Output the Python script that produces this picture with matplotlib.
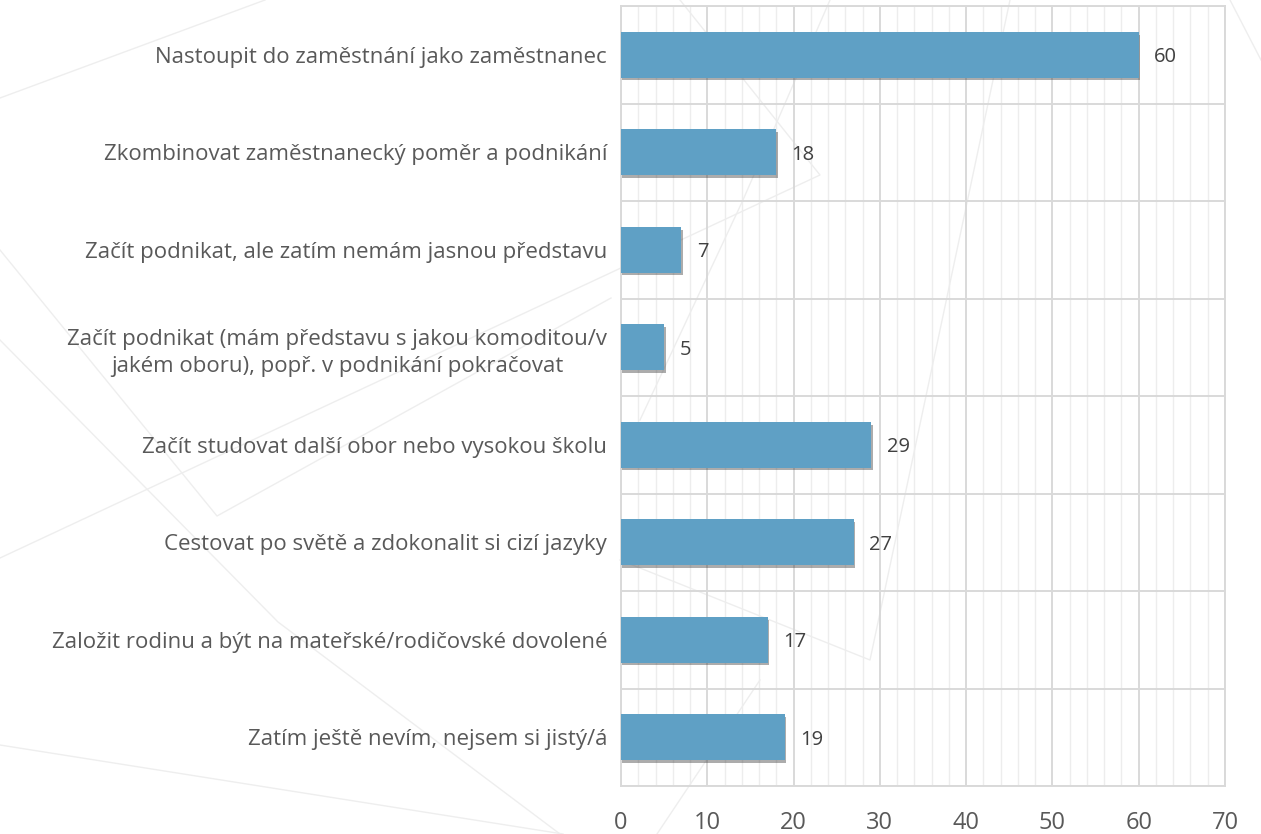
import numpy as np
import matplotlib
matplotlib.use("Agg")
import matplotlib.pyplot as plt
import matplotlib.patheffects as pe
from matplotlib.lines import Line2D

plt.rcParams["font.family"] = ["Open Sans", "DejaVu Sans"]

categories = [
    "Nastoupit do zaměstnání jako zaměstnanec",
    "Zkombinovat zaměstnanecký poměr a podnikání",
    "Začít podnikat, ale zatím nemám jasnou představu",
    "Začít podnikat (mám představu s jakou komoditou/v\njakém oboru), popř. v podnikání pokračovat",
    "Začít studovat další obor nebo vysokou školu",
    "Cestovat po světě a zdokonalit si cizí jazyky",
    "Založit rodinu a být na mateřské/rodičovské dovolené",
    "Zatím ještě nevím, nejsem si jistý/á",
]
values = [60, 18, 7, 5, 29, 27, 17, 19]
x_ticks = [0, 10, 20, 30, 40, 50, 60, 70]

text_color = "#595959"
bar_color = "#5FA0C5"

fig = plt.figure(figsize=(12.61, 8.34), dpi=100)
ax = fig.add_axes([621 / 1261, 1 - 786 / 834, (1225 - 621) / 1261, (786 - 6) / 834])

# faint decorative background lines (figure pixel coords, y down)
deco = [
    [(0, 98), (265, 0)],
    [(0, 250), (217, 516), (611, 298)],
    [(0, 340), (278, 622), (560, 834)],
    [(0, 558), (820, 175), (680, 0)],
    [(0, 745), (563, 834)],
    [(760, 680), (657, 834)],
    [(830, 0), (743, 200), (640, 420)],
    [(1010, 0), (870, 660), (620, 560)],
    [(1230, 0), (1261, 60)],
]
for pts in deco:
    xs = [p[0] / 1261 for p in pts]
    ys = [1 - p[1] / 834 for p in pts]
    fig.add_artist(Line2D(xs, ys, color="#EEEEEE", lw=1.0, zorder=0))

ax.set_facecolor("none")
y = np.arange(len(categories))
bars = ax.barh(y, values, height=0.47, color=bar_color, zorder=3)
for b in bars:
    b.set_path_effects([pe.SimplePatchShadow(offset=(1, -2), shadow_rgbFace="#303030", alpha=0.4), pe.Normal()])

for yi, v in zip(y, values):
    ax.annotate(str(v), (v, yi), xytext=(11, 0), textcoords="offset points",
                va="center_baseline", ha="left", fontsize=14.5, color="#404040")

ax.set_xlim(0, 70)
ax.set_ylim(len(categories) - 0.5, -0.5)
ax.set_xticks(x_ticks)
ax.set_xticks(np.arange(0, 71, 2), minor=True)
ax.set_yticks(y)
ax.set_yticks(np.arange(-0.5, len(categories), 1.0), minor=True)
ax.set_yticklabels(categories, fontsize=16, color=text_color, multialignment="center",
                   linespacing=1.4)
ax.set_xticklabels([str(t) for t in x_ticks], fontsize=17, color=text_color)

ax.grid(which="major", axis="x", color="#D9D9D9", lw=1.4, zorder=1)
ax.grid(which="minor", axis="x", color="#EDEDED", lw=1.0, zorder=0.9)
ax.grid(which="minor", axis="y", color="#D9D9D9", lw=1.4, zorder=1)
ax.tick_params(which="both", length=0)
ax.tick_params(axis="y", pad=10)
ax.tick_params(axis="x", pad=18)
for s in ax.spines.values():
    s.set_color("#D9D9D9")
    s.set_linewidth(1.4)

fig.savefig("out.png", dpi=100)
